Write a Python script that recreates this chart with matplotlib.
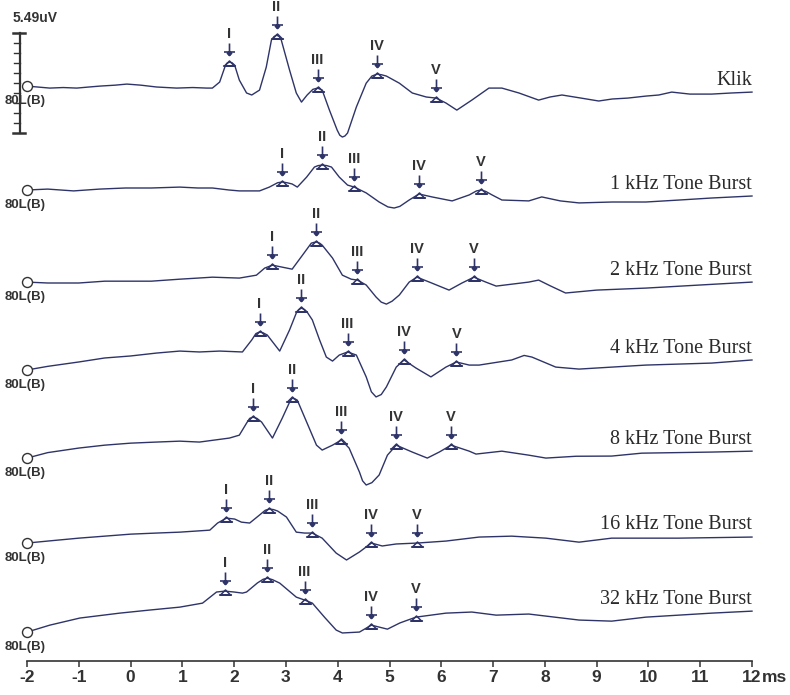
import numpy as np
import matplotlib
matplotlib.use('Agg')
import matplotlib.pyplot as plt
from matplotlib import transforms
from matplotlib.path import Path

# ABR waveforms: (latency ms, amplitude uV), each relative to its own baseline
klik = [(-2.0, 0.0), (-1.8, -0.05), (-1.56, -0.11), (-1.3, -0.08), (-1.04, -0.11), (-0.8, -0.05),
        (-0.59, 0.0), (-0.3, 0.05), (-0.07, 0.11), (0.2, 0.05), (0.5, -0.05), (0.89, -0.11),
        (1.2, -0.08), (1.47, -0.11), (1.58, -0.11), (1.72, 0.22), (1.82, 1.04), (1.86, 1.25),
        (1.91, 1.32), (1.96, 1.28), (2.01, 1.15), (2.10, 0.33), (2.24, -0.38), (2.34, -0.49),
        (2.49, -0.22), (2.62, 1.04), (2.72, 2.53), (2.77, 2.72), (2.82, 2.80), (2.87, 2.72),
        (2.91, 2.53), (3.07, 0.88), (3.20, -0.38), (3.30, -0.88), (3.41, -0.49), (3.52, -0.18),
        (3.61, -0.11), (3.70, -0.22), (3.84, -1.32), (3.99, -2.42), (4.04, -2.70), (4.09, -2.80),
        (4.14, -2.74), (4.19, -2.58), (4.36, -1.15), (4.55, 0.16), (4.66, 0.55), (4.76, 0.66),
        (4.85, 0.62), (4.94, 0.55), (5.19, 0.16), (5.44, -0.38), (5.71, -0.60), (5.90, -0.66),
        (6.09, -0.93), (6.30, -1.32), (6.59, -0.77), (6.92, -0.11), (7.17, -0.11), (7.5, -0.38),
        (7.88, -0.77), (8.1, -0.60), (8.33, -0.49), (8.7, -0.66), (9.04, -0.82), (9.3, -0.71),
        (9.6, -0.66), (9.95, -0.55), (10.2, -0.49), (10.45, -0.33), (10.8, -0.44), (11.22, -0.44),
        (11.6, -0.38), (12.0, -0.33)]

tone1k = [(-2.0, 0.0), (-1.6, 0.05), (-1.1, -0.05), (-0.6, 0.05), (-0.1, 0.11), (0.4, 0.11),
          (0.95, 0.16), (1.3, 0.11), (1.58, 0.11), (1.9, 0.0), (2.1, -0.05), (2.49, -0.05),
          (2.68, 0.16), (2.84, 0.40), (2.93, 0.44), (3.02, 0.40), (3.12, 0.33), (3.22, 0.16),
          (3.40, 0.71), (3.55, 1.26), (3.62, 1.34), (3.70, 1.37), (3.79, 1.34), (3.88, 1.26),
          (4.03, 0.71), (4.19, 0.27), (4.32, 0.16), (4.55, -0.16), (4.80, -0.66), (4.97, -0.93),
          (5.09, -0.99), (5.20, -0.90), (5.38, -0.55), (5.57, -0.22), (5.82, -0.38), (6.21, -0.60),
          (6.54, -0.27), (6.68, -0.05), (6.77, 0.0), (6.86, -0.08), (6.98, -0.27), (7.17, -0.55),
          (7.69, -0.60), (7.94, -0.38), (8.3, -0.60), (8.66, -0.71), (9.3, -0.66), (9.95, -0.66),
          (10.6, -0.55), (11.22, -0.44), (12.0, -0.33)]

tone2k = [(-2.0, 0.0), (-1.6, -0.05), (-1.0, -0.05), (-0.5, 0.05), (0.0, 0.05), (0.4, 0.05),
          (0.95, 0.16), (1.3, 0.22), (1.58, 0.27), (2.1, 0.22), (2.43, 0.38), (2.59, 0.77),
          (2.74, 0.93), (2.93, 0.82), (3.12, 0.71), (3.32, 1.48), (3.49, 2.14), (3.54, 2.18),
          (3.59, 2.20), (3.65, 2.14), (3.70, 2.03), (3.90, 1.32), (4.09, 0.38), (4.26, 0.16),
          (4.38, 0.11), (4.55, -0.16), (4.74, -0.82), (4.84, -1.10), (4.94, -1.21), (5.05, -1.05),
          (5.19, -0.71), (5.38, 0.0), (5.53, 0.27), (5.77, 0.0), (6.15, -0.44), (6.40, -0.05),
          (6.63, 0.27), (6.86, 0.0), (7.06, -0.22), (7.69, 0.0), (7.88, 0.11), (8.1, -0.20),
          (8.40, -0.60), (9.0, -0.44), (9.95, -0.33), (11.0, -0.16), (12.0, 0.0)]

tone4k = [(-2.0, 0.0), (-1.6, 0.20), (-1.0, 0.44), (-0.5, 0.66), (0.0, 0.77), (0.5, 0.93),
          (0.95, 1.04), (1.33, 0.99), (1.72, 1.04), (2.16, 0.99), (2.34, 1.65), (2.42, 2.00),
          (2.49, 2.09), (2.56, 2.04), (2.64, 1.92), (2.88, 1.04), (3.07, 2.20), (3.20, 3.13),
          (3.25, 3.32), (3.30, 3.40), (3.36, 3.32), (3.41, 3.18), (3.51, 2.75), (3.65, 1.65),
          (3.78, 0.71), (3.90, 0.49), (4.03, 0.82), (4.19, 0.99), (4.36, 0.82), (4.55, -0.38),
          (4.65, -1.20), (4.74, -1.48), (4.84, -1.35), (4.94, -0.93), (5.13, 0.16), (5.28, 0.55),
          (5.51, 0.11), (5.80, -0.38), (6.09, 0.16), (6.29, 0.44), (6.54, 0.27), (6.73, 0.27),
          (7.36, 0.55), (7.60, 0.80), (7.75, 0.71), (8.21, 0.16), (8.66, 0.05), (9.3, 0.16),
          (9.95, 0.27), (11.22, 0.38), (12.0, 0.55)]

tone8k = [(-2.0, 0.0), (-1.6, 0.30), (-1.0, 0.55), (-0.5, 0.71), (0.0, 0.82), (0.5, 0.88),
          (0.95, 0.93), (1.33, 0.88), (1.91, 1.10), (2.10, 1.26), (2.24, 1.92), (2.30, 2.18),
          (2.36, 2.25), (2.44, 2.18), (2.53, 1.98), (2.74, 1.10), (2.93, 2.20), (3.07, 3.07),
          (3.12, 3.29), (3.17, 3.26), (3.22, 3.18), (3.40, 1.98), (3.59, 0.71), (3.70, 0.44),
          (3.90, 0.71), (4.07, 0.99), (4.22, 0.55), (4.42, -0.77), (4.48, -1.25), (4.55, -1.48),
          (4.66, -1.35), (4.80, -0.93), (4.96, 0.16), (5.13, 0.71), (5.44, 0.33), (5.73, 0.0),
          (5.96, 0.33), (6.19, 0.71), (6.54, 0.38), (6.67, 0.22), (7.17, 0.38), (7.69, 0.16),
          (8.02, 0.0), (8.6, 0.10), (9.29, 0.11), (9.87, 0.27), (11.22, 0.33), (12.0, 0.38)]

tone16k = [(-2.0, 0.0), (-1.6, 0.11), (-1.0, 0.27), (-0.5, 0.38), (0.0, 0.49), (0.5, 0.55),
           (0.95, 0.60), (1.53, 0.71), (1.68, 1.10), (1.85, 1.37), (2.01, 1.32), (2.14, 1.15),
           (2.30, 1.10), (2.49, 1.54), (2.60, 1.80), (2.68, 1.87), (2.76, 1.84), (2.84, 1.76),
           (3.01, 1.43), (3.20, 0.60), (3.36, 0.55), (3.51, 0.55), (3.70, 0.27), (3.97, -0.55),
           (4.17, -0.93), (4.42, -0.49), (4.65, 0.0), (4.86, -0.16), (5.13, -0.05), (5.53, 0.0),
           (6.09, 0.11), (6.73, 0.33), (7.36, 0.38), (8.02, 0.27), (8.66, 0.05), (9.29, 0.27),
           (10.58, 0.27), (12.0, 0.33)]

tone32k = [(-2.0, 0.0), (-1.56, 0.38), (-0.98, 0.77), (-0.21, 1.04), (0.37, 1.21), (0.95, 1.37),
           (1.39, 1.59), (1.66, 2.20), (1.82, 2.25), (2.0, 2.20), (2.16, 2.14), (2.24, 2.20),
           (2.45, 2.70), (2.56, 2.90), (2.64, 2.96), (2.74, 2.88), (2.88, 2.69), (3.20, 1.92),
           (3.36, 1.76), (3.51, 1.59), (3.75, 0.80), (3.97, 0.11), (4.09, -0.05), (4.42, 0.0),
           (4.65, 0.38), (4.96, 0.16), (5.20, 0.50), (5.51, 0.82), (6.09, 1.04), (6.59, 1.10),
           (7.06, 0.93), (7.69, 0.99), (8.66, 0.66), (9.29, 0.60), (9.95, 0.82), (11.22, 1.04),
           (12.0, 1.15)]

names = ['Klik', '1 kHz Tone Burst', '2 kHz Tone Burst', '4 kHz Tone Burst',
         '8 kHz Tone Burst', '16 kHz Tone Burst', '32 kHz Tone Burst']

# wave I..V latencies (ms)
peaks_klik = [1.91, 2.82, 3.61, 4.76, 5.90]
peaks_1k = [2.93, 3.70, 4.32, 5.57, 6.77]
peaks_2k = [2.74, 3.59, 4.38, 5.53, 6.63]
peaks_4k = [2.49, 3.30, 4.19, 5.28, 6.29]
peaks_8k = [2.36, 3.12, 4.07, 5.13, 6.19]
peaks_16k = [1.85, 2.68, 3.51, 4.65, 5.53]
peaks_32k = [1.82, 2.64, 3.36, 4.65, 5.51]
numerals = ['I', 'II', 'III', 'IV', 'V']

ticks = list(range(-2, 13))
tick_labels = [str(t) for t in ticks]
scale_uv = 5.49
channel = '80L(B)'

traces = [klik, tone1k, tone2k, tone4k, tone8k, tone16k, tone32k]
peaks = [peaks_klik, peaks_1k, peaks_2k, peaks_4k, peaks_8k, peaks_16k, peaks_32k]

# vertical stacking (uV above the time axis) and label lift
baselines = [31.59, 25.88, 20.82, 15.99, 11.15, 6.48, 1.59]
name_lift = [0.08, 0.03, 0.41, 0.91, 0.80, 0.80, 1.56]

ink = '#2e3468'
txt = '#2a2a2a'
axis_font = ['Liberation Sans Narrow', 'DejaVu Sans Condensed', 'Liberation Sans']

fig = plt.figure(figsize=(7.9, 6.95), dpi=100)
ax = fig.add_axes([27 / 790, 34 / 695, 725 / 790, 661 / 695])
ax.set_xlim(-2, 12)
ax.set_ylim(0, 36.32)
for s in ['top', 'left', 'right']:
    ax.spines[s].set_visible(False)
ax.spines['bottom'].set_color('#333333')
ax.spines['bottom'].set_linewidth(1.2)
ax.set_yticks([])
ax.set_xticks(ticks)
ax.set_xticklabels(tick_labels)
ax.tick_params(axis='x', direction='out', length=4, width=1.1, pad=2.5, colors='#333333',
               labelsize=12.5)
for lab in ax.get_xticklabels():
    lab.set_family(axis_font)
    lab.set_fontweight('bold')
    lab.set_fontstretch('condensed')
ax.annotate('ms', xy=(12, 0), xycoords=('data', 'axes fraction'), xytext=(6.8, -6.5),
            textcoords='offset points', ha='left', va='top', fontsize=12.5, color='#333333',
            family=axis_font, fontweight='bold', fontstretch='condensed',
            annotation_clip=False)

# marker glyphs: arrow with crossbar, and small triangle on a base line
arrow_glyph = Path([(0, 6), (0, -6), (-5.5, -2.5), (5.5, -2.5), (-2.5, -3.5), (0, -6), (2.5, -3.5)],
                   [Path.MOVETO, Path.LINETO, Path.MOVETO, Path.LINETO,
                    Path.MOVETO, Path.LINETO, Path.LINETO])
tri_glyph = Path([(-5, -2.5), (0, 2.5), (5, -2.5), (-5, -2.5), (-6.5, -2.5), (6.5, -2.5)],
                 [Path.MOVETO, Path.LINETO, Path.LINETO, Path.LINETO, Path.MOVETO, Path.LINETO])
lift_arrow = transforms.offset_copy(ax.transData, fig=fig, x=0, y=13, units='dots')
lift_tri = transforms.offset_copy(ax.transData, fig=fig, x=0, y=-1, units='dots')

for pts, pk, base, name, lift in zip(traces, peaks, baselines, names, name_lift):
    pts = np.array(pts)
    t, v = pts[:, 0], pts[:, 1] + base
    ax.plot(t, v, color=ink, lw=1.0, clip_on=False, zorder=3)
    ax.plot(t[0], v[0], 'o', ms=7.2, mfc='white', mec='#333333', mew=1.0, zorder=4,
            clip_on=False)
    ax.text(-2.44, base - 0.82, channel, ha='left', va='center', fontsize=9.5,
            fontweight='bold', color='#333333', family='Liberation Sans')
    ax.text(12.0, base + lift, name, ha='right', va='baseline', fontsize=14.5,
            family='Liberation Serif', color=txt)

    pv = np.interp(pk, t, v)
    ax.plot(pk, pv, ls='none', marker=arrow_glyph, ms=8.64, mfc='none', mec=ink, mew=1.2,
            transform=lift_arrow, clip_on=False, zorder=5)
    ax.plot(pk, pv, ls='none', marker=tri_glyph, ms=9.4, mfc='none', mec=ink, mew=1.1,
            transform=lift_tri, clip_on=False, zorder=5)
    for x, y, n in zip(pk, pv, numerals):
        ax.annotate(n, xy=(x, y), xytext=(0, 28), textcoords='offset pixels', ha='center',
                    va='center', fontsize=10.5, fontweight='bold', color='#333333',
                    family='Liberation Sans', annotation_clip=False)

# amplitude calibration bar beside the top trace
bar_x = -2.135
bar_top = baselines[0] + 2.91
bar_bot = bar_top - scale_uv
ax.plot([bar_x, bar_x], [bar_bot, bar_top], color='#333333', lw=1.6, clip_on=False)
for y in [bar_bot, bar_top]:
    ax.plot([-2.27, -2.04], [y, y], color='#333333', lw=1.8, clip_on=False)
for y in np.linspace(bar_bot, bar_top, 11)[1:-1]:
    ax.plot([-2.25, bar_x], [y, y], color='#333333', lw=1.0, clip_on=False)
ax.text(-2.27, bar_top + 0.82, '%.2fuV' % scale_uv, ha='left', va='center', fontsize=10,
        fontweight='bold', color='#333333', family='Liberation Sans')

fig.savefig('out.png', dpi=100, facecolor='white')
